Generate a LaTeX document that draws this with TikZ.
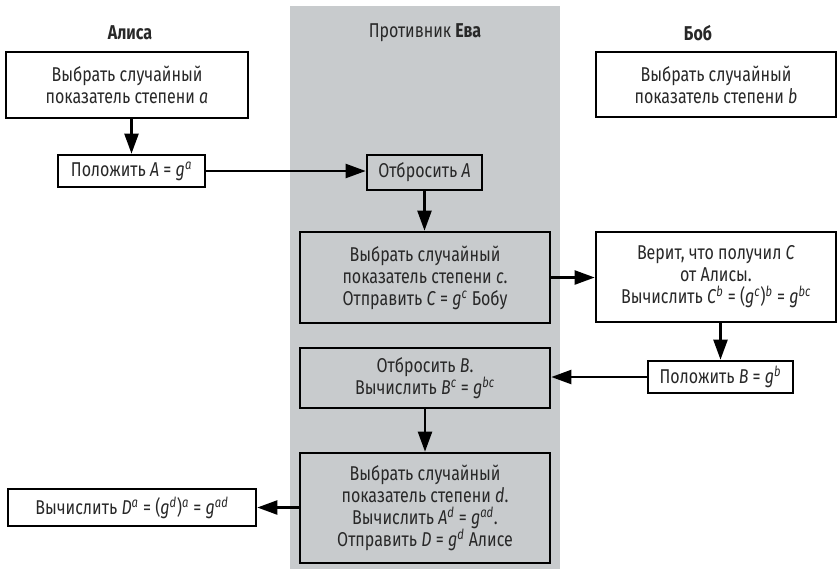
\documentclass[tikz,border=0pt]{standalone}
\usepackage{fontspec}
\setmainfont{Fira Sans}[FakeStretch=0.8]
\usetikzlibrary{arrows.meta}
\definecolor{evegray}{RGB}{200,203,205}
\definecolor{inkgray}{RGB}{40,40,40}
\newcommand{\vr}[1]{\textit{#1}}
\newcommand{\ex}[1]{\textsuperscript{\textit{#1}}}
\tikzset{
  stepbox/.style={draw, line width=2pt, fill=white, align=center, inner sep=0pt,
    text=inkgray, font=\fontsize{15}{16.5}\selectfont},
  evebox/.style={stepbox, fill=evegray},
  flow/.style={line width=1.7pt, -{Triangle[length=15pt,width=10.5pt]}},
  party/.style={text=inkgray, font=\fontsize{15}{16}\selectfont}
}
\begin{document}
\begin{tikzpicture}[x=0.75pt,y=-0.75pt,line join=miter]
  \useasboundingbox (0,0) rectangle (838,569);
  % column of the adversary
  \fill[evegray] (290,6) rectangle (560,569);

  % headers
  \node[party] (alice) at (130,33) {\textbf{Алиса}};
  \node[party] (eve) at (425,33) {Противник \textbf{Ева}};
  \node[party] (bob) at (698,33) {\textbf{Боб}};

  % Alice
  \node[stepbox, minimum width=181.5pt, minimum height=49.5pt] (A1) at (127,85)
    {Выбрать случайный\\показатель степени \vr{a}};
  \node[stepbox, minimum width=110.25pt, minimum height=24pt] (A2) at (131.5,171)
    {Положить \vr{A} = \vr{g}\ex{a}};
  \node[stepbox, minimum width=186pt, minimum height=27.75pt] (A3) at (132,507.5)
    {Вычислить \vr{D}\ex{a} = (\vr{g}\ex{d})\ex{a} = \vr{g}\ex{ad}};

  % Eve
  \node[evebox, minimum width=86.25pt, minimum height=26.25pt] (E1) at (424.5,172.5)
    {Отбросить \vr{A}};
  \node[evebox, minimum width=187.5pt, minimum height=68.25pt] (E2) at (425,277.5)
    {Выбрать случайный\\показатель степени \vr{c}.\\Отправить \vr{C} = \vr{g}\ex{c} Бобу};
  \node[evebox, minimum width=187.5pt, minimum height=45pt] (E3) at (425,378)
    {Отбросить \vr{B}.\\Вычислить \vr{B}\ex{c} = \vr{g}\ex{bc}};
  \node[evebox, minimum width=187.5pt, minimum height=82.5pt] (E4) at (425,508)
    {Выбрать случайный\\показатель степени \vr{d}.\\Вычислить \vr{A}\ex{d} = \vr{g}\ex{ad}.\\Отправить \vr{D} = \vr{g}\ex{d} Алисе};

  % Bob
  \node[stepbox, minimum width=180pt, minimum height=48.75pt] (B1) at (716,84.5)
    {Выбрать случайный\\показатель степени \vr{b}};
  \node[stepbox, minimum width=180pt, minimum height=67.5pt] (B2) at (716,277)
    {Верит, что получил \vr{C}\\от Алисы.\\Вычислить \vr{C}\ex{b} = (\vr{g}\ex{c})\ex{b} = \vr{g}\ex{bc}};
  \node[stepbox, minimum width=108.75pt, minimum height=24pt] (B3) at (720.5,377)
    {Положить \vr{B} = \vr{g}\ex{b}};

  % messages
  \draw[flow] (A1.south -| A2.north) -- (A2.north);
  \draw[flow] (A2.east) -- (A2.east -| E1.west);
  \draw[flow] (E1.south) -- (E1.south |- E2.north);
  \draw[flow] (E2.east) -- (E2.east -| B2.west);
  \draw[flow] (B2.south -| B3.north) -- (B3.north);
  \draw[flow] (B3.west) -- (B3.west -| E3.east);
  \draw[flow] (E3.south) -- (E4.north);
  \draw[flow] (E4.west |- A3.east) -- (A3.east);
\end{tikzpicture}
\end{document}
